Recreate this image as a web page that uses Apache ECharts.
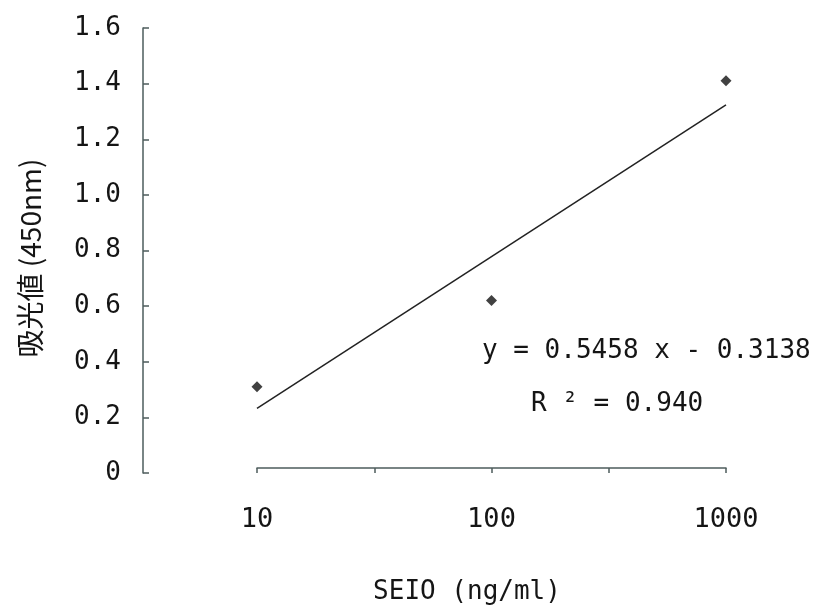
<!DOCTYPE html>
<html>
<head>
<meta charset="utf-8">
<script src="https://cdn.jsdelivr.net/npm/echarts@6/dist/echarts.min.js"></script>
<style>html,body{margin:0;padding:0;background:#fff;}#c{width:814px;height:611px;}</style>
</head>
<body>
<div id="c"></div>
<script>
// Data
const concentrations = [10, 100, 1000];          // SEIO (ng/ml)
const absorbance = [0.31, 0.62, 1.41];           // 吸光値 (450nm)
const fitSlope = 0.5458;
const fitIntercept = -0.3138;
const equationText = 'y = 0.5458 x - 0.3138';
const r2Text = 'R ² = 0.940';
const xTickLabels = ['10', '100', '1000'];
const yTickLabels = ['0', '0.2', '0.4', '0.6', '0.8', '1.0', '1.2', '1.4', '1.6'];
const xAxisTitle = 'SEIO (ng/ml)';
const yAxisTitle = '吸光値 (450nm)';

const MONO = "'DejaVu Sans Mono', 'Liberation Mono', monospace";
const CJK = "'Noto Sans CJK JP', sans-serif";
const AXIS = '#4d5c5c';
const TXT = '#151515';

const logX = concentrations.map(v => Math.log10(v));
const points = logX.map((lx, i) => [lx, absorbance[i]]);
const fitLine = [logX[0], logX[logX.length - 1]].map(lx => [lx, fitSlope * lx + fitIntercept]);

const chart = echarts.init(document.getElementById('c'));
chart.setOption({
  backgroundColor: '#fff',
  animation: false,
  grid: [
    { left: 143, top: 28, bottom: 138, width: 1, outerBoundsMode: 'none', containLabel: false },
    { left: 257, right: 88, top: 28, bottom: 138, outerBoundsMode: 'none', containLabel: false }
  ],
  xAxis: [
    { gridIndex: 0, type: 'value', show: false },
    {
      gridIndex: 1, type: 'value', min: 1, max: 3, interval: 0.5, offset: -5,
      axisLine: { show: true, lineStyle: { color: AXIS, width: 1.5 } },
      axisTick: { show: true, inside: false, length: 5, lineStyle: { color: AXIS, width: 1.5 } },
      splitLine: { show: false },
      axisLabel: {
        margin: 38, color: TXT, fontSize: 27, fontFamily: MONO,
        formatter: v => {
          const i = logX.findIndex(lx => Math.abs(lx - v) < 1e-9);
          return i >= 0 ? xTickLabels[i] : '';
        }
      }
    }
  ],
  yAxis: [
    {
      gridIndex: 0, type: 'value', min: 0, max: 1.6, interval: 0.2,
      axisLine: { show: true, lineStyle: { color: AXIS, width: 1.5 } },
      axisTick: { show: true, inside: true, length: 6, lineStyle: { color: AXIS, width: 1.5 } },
      splitLine: { show: false },
      axisLabel: {
        margin: 22, color: TXT, fontSize: 26, fontFamily: MONO,
        formatter: v => yTickLabels[Math.round(v / 0.2)]
      }
    },
    { gridIndex: 1, type: 'value', min: 0, max: 1.6, interval: 0.2, show: false }
  ],
  series: [
    {
      type: 'line', xAxisIndex: 1, yAxisIndex: 1, data: fitLine,
      symbol: 'none', lineStyle: { color: '#222', width: 1.5 }, silent: true
    },
    {
      type: 'scatter', xAxisIndex: 1, yAxisIndex: 1, data: points,
      symbol: 'diamond', symbolSize: 11, itemStyle: { color: '#111' }
    }
  ],
  graphic: [
    {
      type: 'text', x: 482, y: 351,
      style: { text: equationText, fill: TXT, font: '26px ' + MONO, verticalAlign: 'middle' }
    },
    {
      type: 'text', x: 531, y: 404,
      style: { text: r2Text, fill: TXT, font: '26px ' + MONO, verticalAlign: 'middle' }
    },
    {
      type: 'text', x: 467, y: 592,
      style: { text: xAxisTitle, fill: TXT, font: '26px ' + MONO, align: 'center', verticalAlign: 'middle' }
    },
    {
      type: 'text', x: 30, y: 258, rotation: Math.PI / 2,
      style: { text: yAxisTitle, fill: TXT, font: '28px ' + CJK, align: 'center', verticalAlign: 'middle' }
    }
  ]
});
</script>
</body>
</html>
